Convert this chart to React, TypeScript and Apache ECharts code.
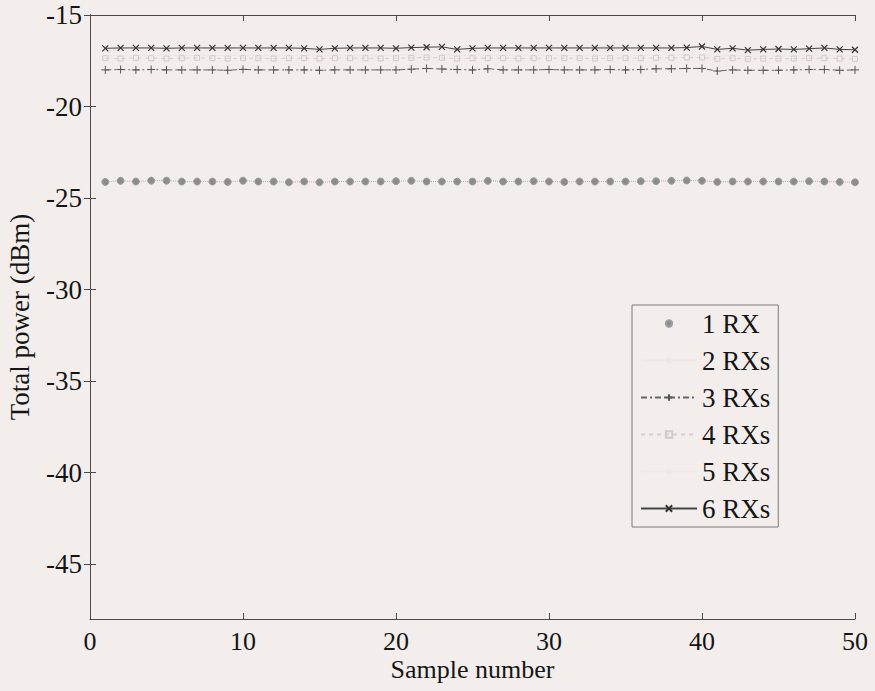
import React, { useEffect, useRef } from "react";
import * as echarts from "echarts";

const samples = Array.from({ length: 50 }, (_, i) => i + 1);

const rx1 = [-24.12, -24.06, -24.1, -24.05, -24.05, -24.1, -24.1, -24.1, -24.12, -24.05, -24.1, -24.1, -24.14, -24.1, -24.14, -24.1, -24.1, -24.1, -24.1, -24.08, -24.06, -24.1, -24.1, -24.1, -24.1, -24.06, -24.1, -24.1, -24.08, -24.1, -24.12, -24.1, -24.1, -24.1, -24.1, -24.08, -24.08, -24.06, -24.04, -24.06, -24.12, -24.1, -24.1, -24.1, -24.1, -24.1, -24.08, -24.1, -24.12, -24.14];
const rx2 = [-17.22, -17.2, -17.22, -17.2, -17.2, -17.22, -17.2, -17.2, -17.22, -17.2, -17.2, -17.2, -17.22, -17.2, -17.24, -17.2, -17.2, -17.2, -17.2, -17.2, -17.18, -17.16, -17.16, -17.24, -17.2, -17.2, -17.2, -17.2, -17.2, -17.2, -17.2, -17.2, -17.2, -17.2, -17.2, -17.2, -17.18, -17.18, -17.16, -17.14, -17.24, -17.2, -17.26, -17.24, -17.22, -17.24, -17.2, -17.2, -17.24, -17.24];
const rx3 = [-18.0, -17.98, -18.0, -17.98, -18.0, -18.0, -18.0, -18.0, -18.02, -17.97, -18.0, -18.0, -18.0, -18.0, -18.02, -18.0, -18.0, -18.0, -18.0, -18.0, -17.96, -17.92, -17.95, -17.98, -18.0, -17.94, -18.0, -18.0, -18.0, -17.98, -18.0, -18.0, -18.0, -17.98, -18.0, -17.98, -17.94, -17.94, -17.92, -17.92, -18.06, -18.0, -18.02, -18.02, -18.02, -18.0, -17.98, -17.98, -18.02, -18.0];
const rx4 = [-17.36, -17.38, -17.34, -17.36, -17.38, -17.36, -17.34, -17.36, -17.38, -17.36, -17.36, -17.38, -17.36, -17.36, -17.38, -17.36, -17.36, -17.36, -17.38, -17.36, -17.34, -17.32, -17.34, -17.38, -17.36, -17.36, -17.36, -17.38, -17.36, -17.36, -17.36, -17.36, -17.38, -17.36, -17.36, -17.36, -17.34, -17.34, -17.32, -17.32, -17.4, -17.36, -17.4, -17.38, -17.38, -17.38, -17.36, -17.36, -17.38, -17.4];
const rx5 = [-16.96, -16.94, -16.96, -16.94, -16.96, -16.96, -16.94, -16.96, -16.96, -16.94, -16.96, -16.96, -16.94, -16.96, -16.98, -16.96, -16.96, -16.94, -16.96, -16.96, -16.92, -16.9, -16.9, -16.98, -16.96, -16.96, -16.94, -16.96, -16.96, -16.96, -16.94, -16.96, -16.96, -16.96, -16.94, -16.96, -16.92, -16.92, -16.9, -16.88, -16.98, -16.96, -17.0, -16.98, -16.98, -16.98, -16.96, -16.94, -16.98, -17.0];
const rx6 = [-16.82, -16.8, -16.8, -16.8, -16.82, -16.8, -16.8, -16.8, -16.8, -16.8, -16.8, -16.8, -16.8, -16.82, -16.88, -16.82, -16.8, -16.8, -16.8, -16.82, -16.78, -16.76, -16.74, -16.88, -16.82, -16.8, -16.8, -16.8, -16.8, -16.8, -16.8, -16.8, -16.8, -16.8, -16.8, -16.8, -16.8, -16.8, -16.78, -16.72, -16.88, -16.82, -16.92, -16.88, -16.86, -16.88, -16.84, -16.8, -16.88, -16.9];

const seriesNames = ["1 RX", "2 RXs", "3 RXs", "4 RXs", "5 RXs", "6 RXs"];
const yTicks = [-45, -40, -35, -30, -25, -20, -15];

const BG = "#f3eeec";
const FONT = "Liberation Serif";
const TXT = "#151515";

const PLUS = "path://M5,0L5,10M0,5L10,5";
const CROSS = "path://M0,0L10,10M10,0L0,10";
const SQUARE = "path://M0,0L10,0L10,10L0,10Z";

export default function App() {
  const ref = useRef<HTMLDivElement>(null);
  useEffect(() => {
    if (!ref.current) return;
    const chart = echarts.init(ref.current, null, { renderer: "svg" });
    const toData = (arr: number[]) => samples.map((s, i) => [s, arr[i]]);
    const axisLine = { show: true, lineStyle: { color: "#4a4a4a", width: 1 } };
    const tickStyle = { show: true, inside: true, length: 6, lineStyle: { color: "#4a4a4a" } };
    const labelStyle = { fontFamily: FONT, fontSize: 27, color: TXT };
    const xLabelStyle = { fontFamily: FONT, fontSize: 26, color: TXT };
    chart.setOption({
      animation: false,
      backgroundColor: BG,
      textStyle: { fontFamily: FONT },
      grid: { left: 90, top: 15, right: 20, bottom: 72, outerBoundsMode: "none", containLabel: false },
      legend: {
        orient: "vertical",
        left: 632,
        top: 305,
        padding: [5, 8, 5, 8],
        itemGap: 10,
        itemWidth: 56,
        itemHeight: 8,
        backgroundColor: BG,
        borderColor: "#7a7a7a",
        borderWidth: 1,
        textStyle: labelStyle,
        data: [
          { name: seriesNames[0], lineStyle: { opacity: 0 } },
          seriesNames[1],
          seriesNames[2],
          seriesNames[3],
          seriesNames[4],
          seriesNames[5],
        ],
      },
      xAxis: [
        {
          type: "value",
          min: 0,
          max: 50,
          interval: 10,
          position: "bottom",
          name: "Sample number",
          nameLocation: "middle",
          nameGap: 37,
          nameMoveOverlap: false,
          nameTextStyle: xLabelStyle,
          axisLine,
          axisTick: tickStyle,
          axisLabel: { ...xLabelStyle, margin: 9 },
          splitLine: { show: false },
        },
        {
          type: "value",
          min: 0,
          max: 50,
          interval: 10,
          position: "top",
          axisLine,
          axisTick: tickStyle,
          axisLabel: { show: false },
          splitLine: { show: false },
        },
      ],
      yAxis: [
        {
          type: "value",
          min: -48,
          max: -15,
          position: "left",
          name: "Total power (dBm)",
          nameLocation: "middle",
          nameGap: 57,
          nameMoveOverlap: false,
          nameTextStyle: labelStyle,
          axisLine,
          axisTick: { ...tickStyle, customValues: yTicks },
          axisLabel: { ...labelStyle, margin: 8, customValues: yTicks },
          splitLine: { show: false },
        },
        {
          type: "value",
          min: -48,
          max: -15,
          position: "right",
          axisLine,
          axisTick: { ...tickStyle, customValues: yTicks },
          axisLabel: { show: false, customValues: yTicks },
          splitLine: { show: false },
        },
      ],
      series: [
        {
          name: seriesNames[0],
          type: "line",
          data: toData(rx1),
          symbol: "circle",
          symbolSize: 7,
          itemStyle: { color: "#8c8c8c", borderColor: "#a0a0a0", borderWidth: 1 },
          lineStyle: { color: "#b5b0ae", width: 1, type: "dotted" },
        },
        {
          name: seriesNames[1],
          type: "line",
          data: toData(rx2),
          symbol: "none",
          itemStyle: { color: "#ede8e6" },
          lineStyle: { color: "#ede8e6", width: 1 },
        },
        {
          name: seriesNames[2],
          type: "line",
          data: toData(rx3),
          symbol: PLUS,
          symbolSize: 8,
          itemStyle: { color: "rgba(0,0,0,0)", borderColor: "#555", borderWidth: 1 },
          lineStyle: { color: "#666", width: 1, type: [6, 3, 2, 3] },
        },
        {
          name: seriesNames[3],
          type: "line",
          data: toData(rx4),
          symbol: SQUARE,
          symbolSize: 5,
          itemStyle: { color: "rgba(0,0,0,0)", borderColor: "#d0cac8", borderWidth: 1 },
          lineStyle: { color: "#d5cfcd", width: 1, type: [4, 4] },
        },
        {
          name: seriesNames[4],
          type: "line",
          data: toData(rx5),
          symbol: "none",
          itemStyle: { color: "#eee9e7" },
          lineStyle: { color: "#eee9e7", width: 1 },
        },
        {
          name: seriesNames[5],
          type: "line",
          data: toData(rx6),
          symbol: CROSS,
          symbolSize: 6,
          itemStyle: { color: "rgba(0,0,0,0)", borderColor: "#333", borderWidth: 1.2 },
          lineStyle: { color: "#444", width: 1 },
        },
      ],
    });
    return () => chart.dispose();
  }, []);
  return (
    <div
      ref={ref}
      style={{ position: "fixed", left: 0, top: 0, width: 875, height: 691, background: BG }}
    />
  );
}
